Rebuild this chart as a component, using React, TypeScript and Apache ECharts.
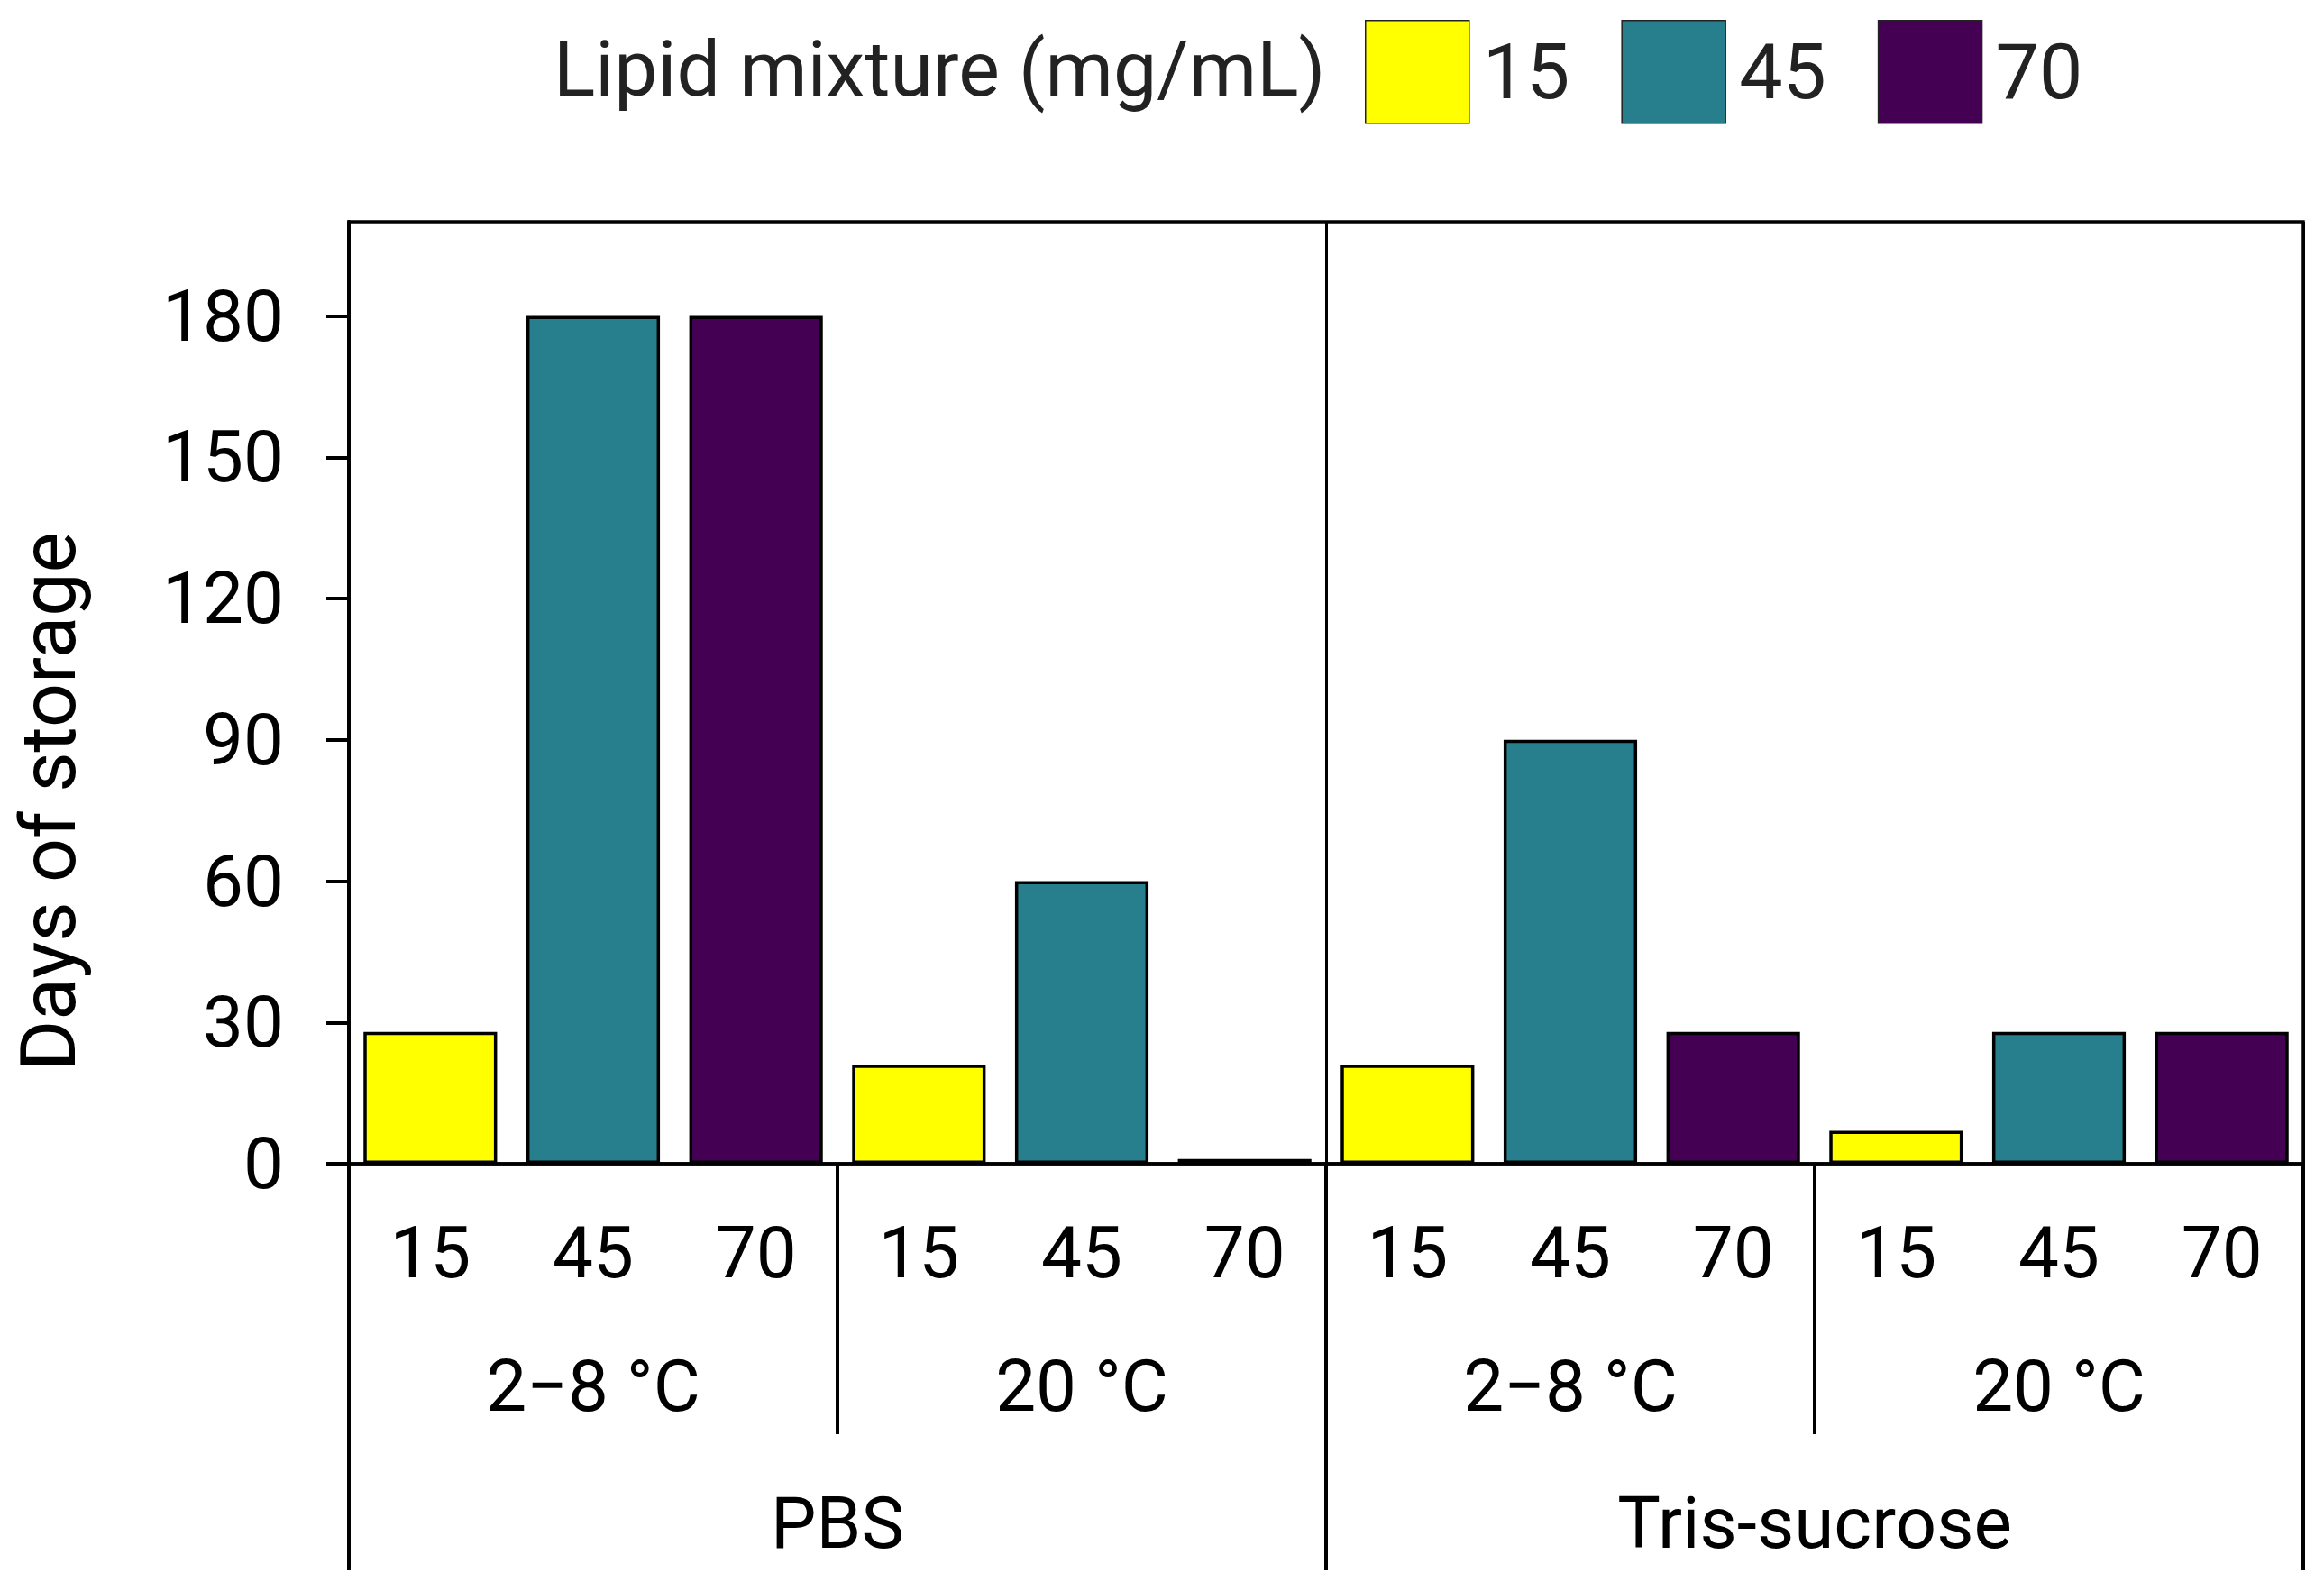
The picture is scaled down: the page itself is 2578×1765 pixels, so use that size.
import React, { useEffect, useRef } from "react";
import * as echarts from "echarts";

// ---- data ----
const mixtures = ["15", "45", "70"];
const temperatures = ["2−8 °C", "20 °C"];
const buffers = ["PBS", "Tris-sucrose"];
// group order: PBS 2–8 °C, PBS 20 °C, Tris-sucrose 2–8 °C, Tris-sucrose 20 °C
const days15 = [28, 21, 21, 7];
const days45 = [180, 60, 90, 28];
const days70 = [180, 1, 28, 28];
const yTicks = [0, 30, 60, 90, 120, 150, 180];
const seriesColors = ["#FFFF00", "#277F8E", "#440154"];
const legendTitle = "Lipid mixture (mg/mL)";
const yTitle = "Days of storage";

const FONT = "Roboto";

export default function App() {
  const ref = useRef<HTMLDivElement>(null);

  useEffect(() => {
    if (!ref.current) return;
    const chart = echarts.init(ref.current, null, { renderer: "svg" });

    const groups: string[][] = [];
    buffers.forEach((b) => temperatures.forEach((t) => groups.push([b, t])));
    const level1 = groups.flatMap(() => mixtures);
    const level2 = groups.map((g) => g[1]);
    const level3 = buffers;
    const allDays = [days15, days45, days70];

    const series = mixtures.map((m, i) => {
      const data: (number | null)[] = [];
      groups.forEach((_, g) => {
        mixtures.forEach((_, j) => {
          data.push(j === i ? allDays[i][g] : null);
        });
      });
      return {
        name: m,
        type: "bar",
        stack: "all",
        xAxisIndex: 0,
        yAxisIndex: 0,
        barCategoryGap: "18%",
        data,
        itemStyle: {
          color: seriesColors[i],
          borderColor: "#000",
          borderWidth: 3.5,
        },
      };
    });

    const labelBase = {
      fontSize: 80,
      lineHeight: 80,
      fontFamily: FONT,
      color: "#000",
    };

    chart.setOption({
      animation: false,
      backgroundColor: "#fff",
      grid: {
        left: 387,
        top: 246,
        width: 2168,
        height: 1045,
        show: true,
        borderColor: "#000",
        borderWidth: 3.5,
        containLabel: false,
      },
      legend: {
        data: mixtures,
        left: 1509,
        top: 17,
        itemWidth: 115,
        itemHeight: 114,
        itemGap: 57,
        icon: "rect",
        itemStyle: { borderWidth: 1.5, borderColor: "#222" },
        textStyle: {
          fontSize: 86,
          fontFamily: FONT,
          color: "#222",
          padding: [0, 0, 0, 10],
        },
      },
      xAxis: [
        {
          type: "category",
          data: level1,
          position: "bottom",
          axisLine: { show: true, lineStyle: { color: "#000", width: 3.5 } },
          axisTick: { show: false },
          axisLabel: { ...labelBase, interval: 0, margin: 59 },
          splitLine: { show: false },
        },
        {
          type: "category",
          data: level2,
          position: "bottom",
          offset: 300,
          axisLine: { show: false },
          axisTick: {
            show: true,
            inside: true,
            length: 300,
            interval: 0,
            lineStyle: { color: "#000", width: 4 },
          },
          axisLabel: { ...labelBase, interval: 0, inside: true, margin: 13 },
          splitLine: { show: false },
        },
        {
          type: "category",
          data: level3,
          position: "bottom",
          offset: 451,
          axisLine: { show: false },
          axisTick: {
            show: true,
            inside: true,
            length: 451,
            interval: 0,
            lineStyle: { color: "#000", width: 4 },
          },
          axisLabel: { ...labelBase, interval: 0, inside: true, margin: 12 },
          splitLine: {
            show: true,
            interval: 0,
            lineStyle: { color: "#000", width: 3 },
          },
        },
      ],
      yAxis: {
        type: "value",
        min: 0,
        max: 200,
        interval: 30,
        axisLine: { show: true, lineStyle: { color: "#000", width: 4 } },
        axisTick: {
          show: true,
          length: 25,
          customValues: yTicks,
          lineStyle: { color: "#000", width: 4 },
        },
        axisLabel: {
          ...labelBase,
          margin: 72,
          customValues: yTicks,
        },
        splitLine: { show: false },
      },
      graphic: [
        {
          type: "text",
          x: 614,
          y: 76,
          style: {
            text: legendTitle,
            fontSize: 86,
            fontFamily: FONT,
            fill: "#222",
            align: "left",
            verticalAlign: "middle",
          },
        },
        {
          type: "text",
          x: 53,
          y: 889,
          rotation: Math.PI / 2,
          style: {
            text: yTitle,
            fontSize: 86,
            fontFamily: FONT,
            fill: "#000",
            align: "center",
            verticalAlign: "middle",
          },
        },
      ],
      series,
    });

    return () => chart.dispose();
  }, []);

  return (
    <div
      ref={ref}
      style={{ position: "absolute", left: 0, top: 0, width: 2578, height: 1765 }}
    />
  );
}
